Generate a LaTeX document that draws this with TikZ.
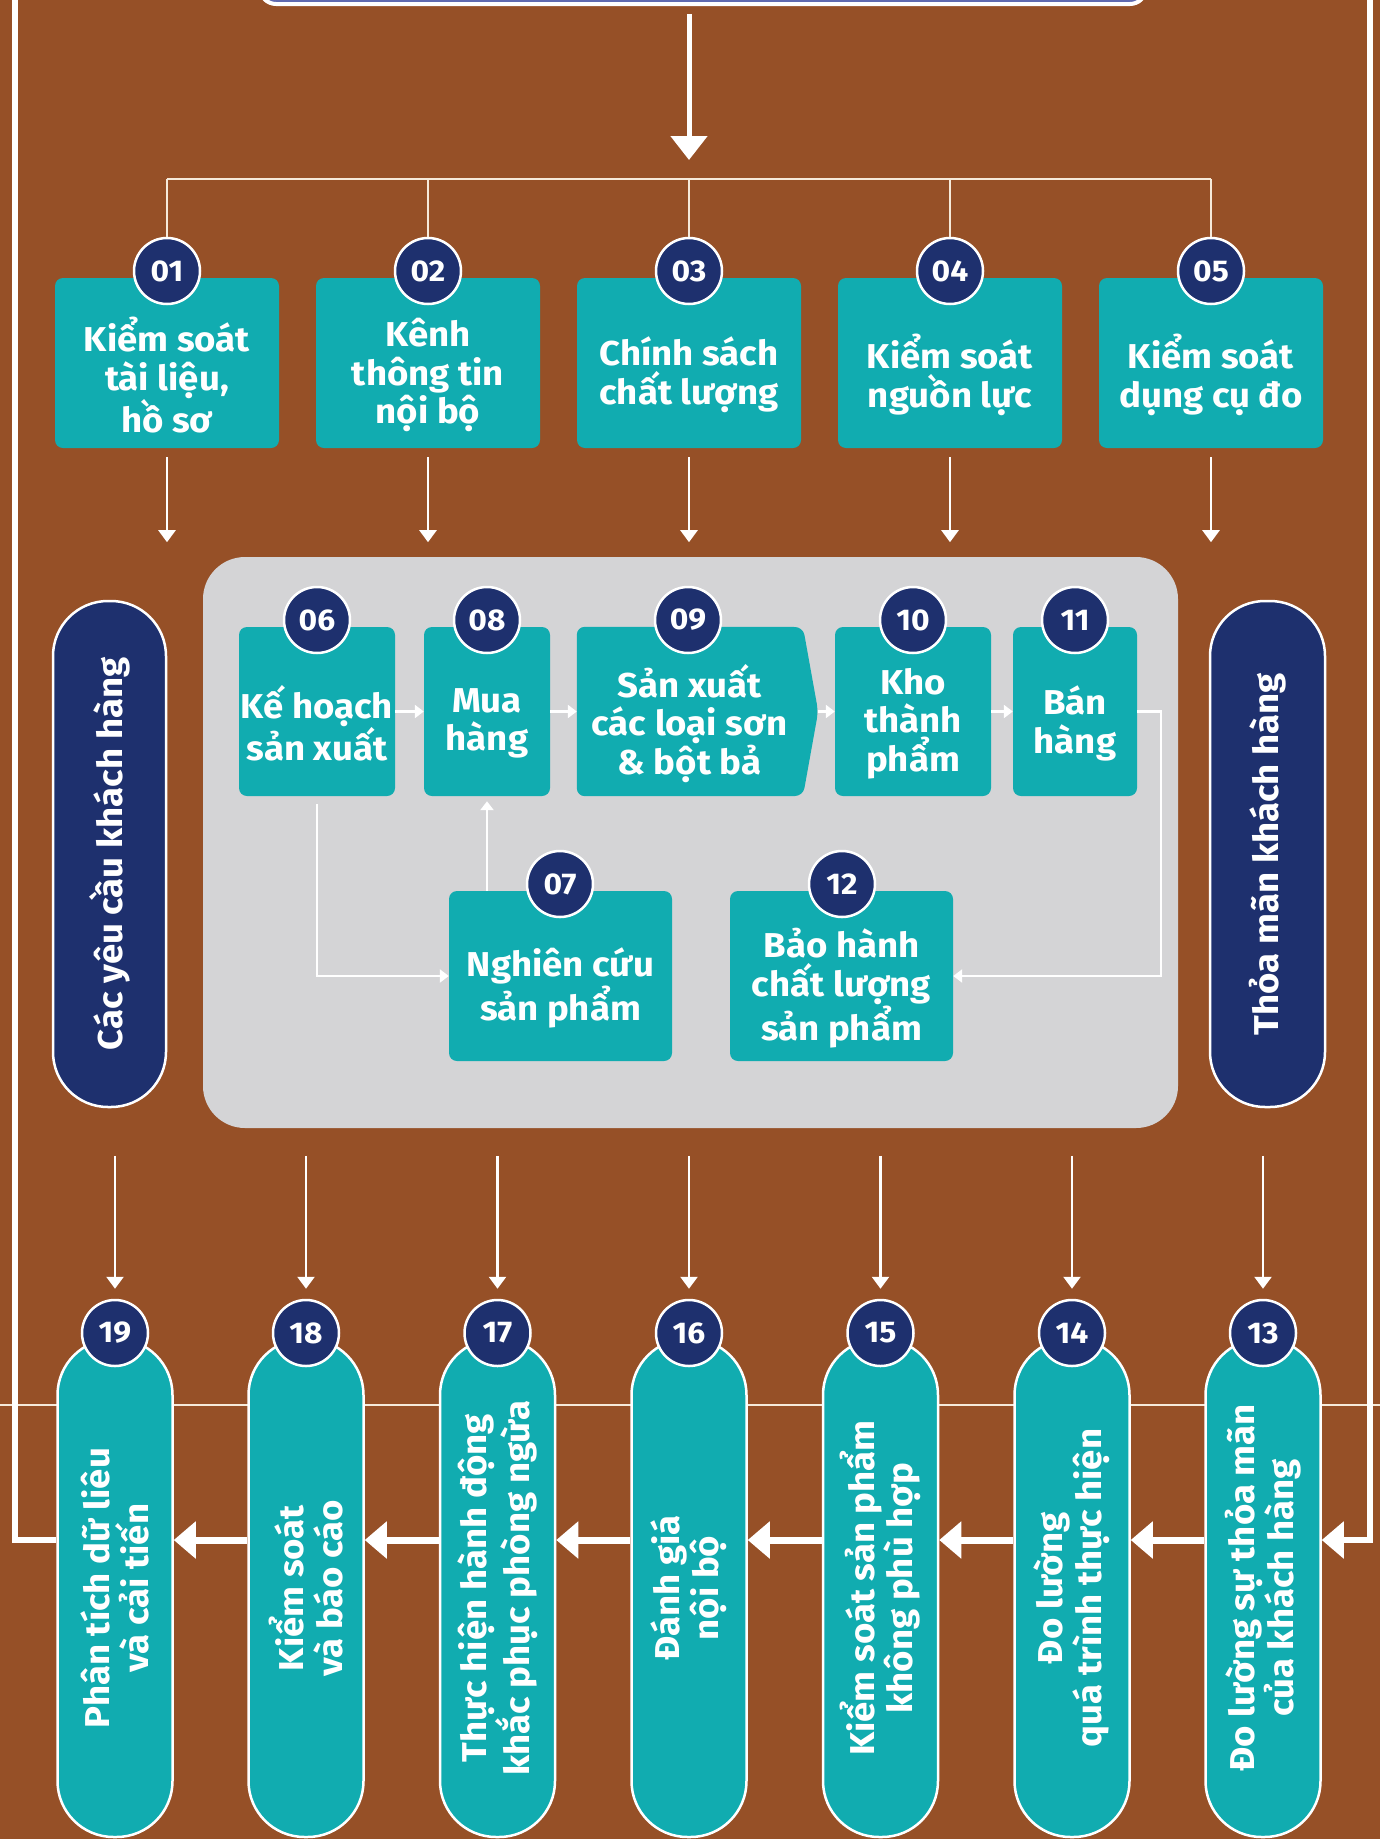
\documentclass[tikz,border=0pt]{standalone}
\usepackage{fontspec}
\setmainfont{Fira Sans}[FakeStretch=1.06]
\usetikzlibrary{arrows.meta,calc}
\definecolor{bgc}{RGB}{150,80,39}
\definecolor{tealc}{RGB}{17,172,176}
\definecolor{navyc}{RGB}{30,48,110}
\definecolor{grayc}{RGB}{212,212,214}
\definecolor{topblue}{RGB}{96,106,176}
\definecolor{linec}{RGB}{246,234,218}
\tikzset{
  tbox/.style={fill=tealc, rounded corners=8pt, inner sep=0pt},
  btext/.style={text=white, align=center, font=\fontsize{34.5}{38.7}\selectfont\bfseries, inner sep=0pt},
  ptext/.style={text=white, align=center, font=\fontsize{34.5}{38.7}\selectfont\bfseries, inner sep=0pt, rotate=90},
  num/.style={circle, fill=navyc, draw=white, line width=2.5pt, minimum size=66pt, inner sep=0pt, text=white, font=\fontsize{30}{34}\selectfont\bfseries},
  tpill/.style={fill=tealc, draw=white, line width=2.5pt, rounded corners=56pt, minimum width=115pt, minimum height=498pt, inner sep=0pt},
  npill/.style={fill=navyc, draw=white, line width=2.5pt, rounded corners=55pt, minimum height=506pt, inner sep=0pt},
  arrA/.style={draw=white, line width=2.5pt, -{Triangle[length=12pt,width=17pt]}},
  arrB/.style={draw=white, line width=2.5pt, -{Triangle[length=9pt,width=13pt]}},
  arrC/.style={draw=white, line width=7pt, -{Triangle[length=22pt,width=36pt]}},
  arrTop/.style={draw=white, line width=5pt, -{Triangle[length=24pt,width=36pt]}},
  branchline/.style={draw=linec, line width=2pt},
  frameline/.style={draw=white, line width=6pt},
}
\begin{document}
\begin{tikzpicture}[x=1pt,y=-1pt]
\useasboundingbox (0,0) rectangle (1380,1839);
\clip (0,0) rectangle (1380,1839);
\fill[bgc] (0,0) rectangle (1380,1839);

% thin horizontal line behind bottom pills
\coordinate (hlL) at (0,1405);
\coordinate (hlR) at (1380,1405);
\draw[branchline] (hlL) -- (hlR);

% top box (only its lower edge visible)
\node[draw=white, line width=4pt, fill=topblue, rounded corners=16pt, minimum width=886pt, minimum height=120pt] (top) at (703,-56) {};

% frame lines
\coordinate (fl) at (15,-20);
\coordinate (fr) at (1370,-20);
\coordinate (ay) at (0,1540);

% top arrow and branch
\coordinate (tB) at (689,160);
\coordinate (br) at (689,179);
\draw[arrTop, shorten <=8pt] (top.south -| tB) -- (tB);

% top row boxes
\foreach \i/\x in {01/167,02/428,03/689,04/950,05/1211}{
  \node[tbox, minimum width=224pt, minimum height=170pt] (b\i) at (\x,363) {};
}
\node[btext] at ([yshift=-12pt]b01.center) {Kiểm soát\\tài liệu,\\hồ sơ};
\node[btext] at ([yshift=-12pt]b02.center) {Kênh\\thông tin\\nội bộ};
\node[btext] at ([yshift=-12pt]b03.center) {Chính sách\\chất lượng};
\node[btext] at ([yshift=-12pt]b04.center) {Kiểm soát\\nguồn lực};
\node[btext] at ([yshift=-12pt]b05.center) {Kiểm soát\\dụng cụ đo};
\foreach \i/\x in {01/167,02/428,03/689,04/950,05/1211}{
  \node[num] (c\i) at (\x,271) {\i};
}
\draw[branchline] (c01.north |- br) -- (c05.north |- br);
\foreach \i in {01,02,03,04,05}{
  \draw[branchline] (c\i.north |- br) -- (c\i.north);
  \draw[arrA, shorten <=9pt] (b\i.south) -- ++(0,94);
}

% gray panel
\fill[grayc, rounded corners=42pt] (203,557) rectangle (1178,1128);

% side pills
\node[npill, minimum width=113pt] (lp) at (109.5,854) {};
\node[ptext] at (lp) {Các yêu cầu khách hàng};
\node[npill, minimum width=115pt] (rp) at (1267.5,854) {};
\node[ptext] at (rp) {Thỏa mãn khách hàng};

% inner boxes
\node[tbox, minimum width=156pt, minimum height=169pt] (b06) at (317,711.5) {};
\node[tbox, minimum width=126pt, minimum height=169pt] (b08) at (487,711.5) {};
\node[inner sep=0pt, minimum width=241pt, minimum height=169pt] (b09) at (697.5,711.5) {};
\fill[tealc, rounded corners=8pt] (b09.north west) -- (803,627) -- (b09.east) -- (803,796) -- (b09.south west) -- cycle;
\node[tbox, minimum width=156pt, minimum height=169pt] (b10) at (913,711.5) {};
\node[tbox, minimum width=124pt, minimum height=169pt] (b11) at (1075,711.5) {};
\node[tbox, minimum width=223pt, minimum height=170pt] (b07) at (560.5,976) {};
\node[tbox, minimum width=223pt, minimum height=170pt] (b12) at (841.5,976) {};

\node[btext] at ([yshift=-12pt]b06.center) {Kế hoạch\\sản xuất};
\node[btext] at ([yshift=-12pt]b08.center) {Mua\\hàng};
\node[btext] at ([xshift=-8pt,yshift=-12pt]b09.center) {Sản xuất\\các loại sơn\\\& bột bả};
\node[btext] at ([yshift=-12pt]b10.center) {Kho\\thành\\phẩm};
\node[btext] at ([yshift=-12pt]b11.center) {Bán\\hàng};
\node[btext] at ([yshift=-12pt]b07.center) {Nghiên cứu\\sản phẩm};
\node[btext] at ([yshift=-12pt]b12.center) {Bảo hành\\chất lượng\\sản phẩm};

\node[num] (c06) at (317,620) {06};
\node[num] (c08) at (487,620) {08};
\node[num] (c09) at (688,620) {09};
\node[num] (c10) at (913,620) {10};
\node[num] (c11) at (1075,620) {11};
\node[num] (c07) at (560,884) {07};
\node[num] (c12) at (842,884) {12};

% inner connectors
\draw[arrB] (b06.east) -- (b08.west);
\draw[arrB] (b08.east) -- (b09.west);
\draw[arrB] (b09.east) -- (b10.west);
\draw[arrB] (b10.east) -- (b11.west);
\draw[arrB, shorten <=8pt] (b06.south) |- (b07.west);
\draw[arrB, shorten >=5pt] (b07.north -| b08.south) -- (b08.south);
\draw[arrB] (b11.east) -- ++(24,0) |- (b12.east);

% bottom pills
\foreach \i/\x in {19/115,18/306,17/497.5,16/689,15/880.5,14/1072,13/1263}{
  \node[tpill] (p\i) at (\x,1588) {};
}
\node[ptext] at (p19) {Phân tích dữ liêu\\và cải tiến};
\node[ptext] at (p18) {Kiểm soát\\và báo cáo};
\node[ptext] at (p17) {Thực hiện hành động\\khắc phục phòng ngừa};
\node[ptext] at (p16) {Đánh giá\\nội bộ};
\node[ptext] at (p15) {Kiểm soát sản phẩm\\không phù hợp};
\node[ptext] at (p14) {Đo lường\\quá trình thực hiện};
\node[ptext] at (p13) {Đo lường sự thỏa mãn\\của khách hàng};
\foreach \i/\x in {19/115,18/306,17/497.5,16/689,15/880.5,14/1072,13/1263}{
  \node[num] (c\i) at (\x,1333) {\i};
  \draw[arrA] ([yshift=143pt]c\i.north) -- ([yshift=10pt]c\i.north);
}

% bottom flow arrows
\foreach \a/\b in {13/14,14/15,15/16,16/17,17/18,18/19}{
  \draw[arrC] (p\a.west |- ay) -- (p\b.east |- ay);
}

% frame
\draw[frameline] (fl) |- (p19.west |- ay);
\draw[frameline, -{Triangle[length=22pt,width=36pt]}] (fr) |- (p13.east |- ay);
\end{tikzpicture}
\end{document}
